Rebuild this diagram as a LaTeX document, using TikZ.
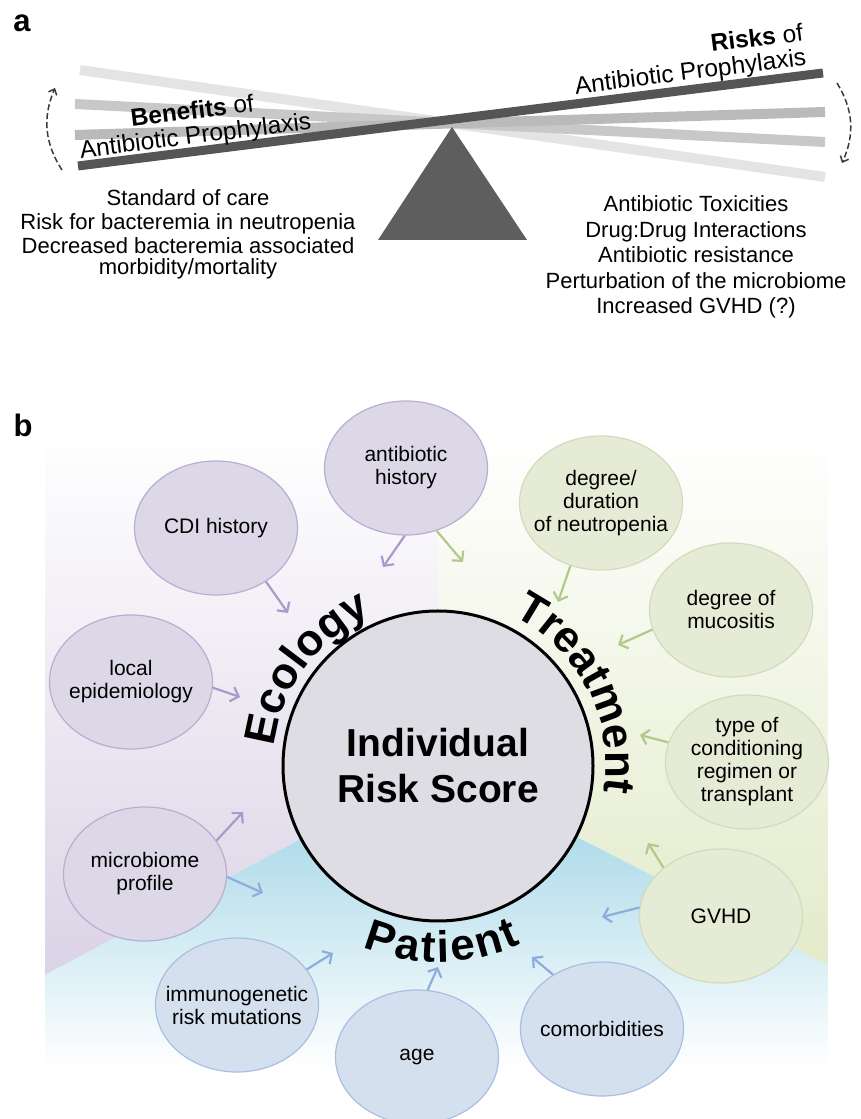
\documentclass[tikz,border=0pt]{standalone}
\usepackage{fontspec}
\setmainfont{Liberation Sans}
\usepackage{xcolor}
\usepackage{tikz}
\usetikzlibrary{arrows.meta,positioning,calc,shapes.geometric,decorations.text}
\definecolor{Beam}{HTML}{555555}
\definecolor{BeamLight}{HTML}{E4E4E4}
\definecolor{BeamMid}{HTML}{C8C8C8}
\definecolor{BeamMidDark}{HTML}{BABABA}
\definecolor{Swing}{HTML}{3A3A3A}
\definecolor{Lilac}{HTML}{B8AED2}
\definecolor{PaleLilac}{HTML}{DDD8E8}
\definecolor{LilacArrow}{HTML}{A69BCB}
\definecolor{LilacBg}{HTML}{DBD3E6}
\definecolor{Sage}{HTML}{D3DBBE}
\definecolor{PaleSage}{HTML}{E6EBD6}
\definecolor{SageArrow}{HTML}{B1CA8A}
\definecolor{SageBg}{HTML}{E3EBCA}
\definecolor{Sky}{HTML}{A9BFE2}
\definecolor{PaleSky}{HTML}{D5E0EF}
\definecolor{SkyArrow}{HTML}{8DADDD}
\definecolor{CyanBg}{HTML}{98D1E4}
\definecolor{ScoreFill}{HTML}{DEDDE3}
\tikzset{
  bubble/.style={ellipse,minimum width=163pt,minimum height=134pt,inner xsep=-16pt,
                 inner ysep=0pt,align=center,line width=1.2pt,
                 font=\fontsize{21}{23}\selectfont},
  lilacbubble/.style={bubble,draw=Lilac,fill=PaleLilac},
  sagebubble/.style={bubble,draw=Sage,fill=PaleSage},
  skybubble/.style={bubble,draw=Sky,fill=PaleSky},
  flow/.style={-{Straight Barb[length=7pt,width=15pt]},line width=2.2pt},
  lilacflow/.style={flow,draw=LilacArrow},
  sageflow/.style={flow,draw=SageArrow},
  skyflow/.style={flow,draw=SkyArrow},
  swing/.style={-{Straight Barb[length=5pt,width=9pt]},dash pattern=on 6pt off 3pt,
                line width=1.5pt,draw=Swing},
  bar/.style={line width=10pt},
  caption/.style={font=\fontsize{24.5}{25}\selectfont,rotate=7.1},
  listing/.style={font=\fontsize{22}{24}\selectfont,align=center},
  panel/.style={font=\fontsize{31}{31}\selectfont\bfseries},
  scorecircle/.style={circle,draw=black,line width=3pt,fill=ScoreFill,minimum size=310pt,
                      inner sep=0pt,align=center,font=\fontsize{39}{46}\selectfont\bfseries},
  arcword/.style={decorate,decoration={text along path,text align=center,
                  text={|\fontsize{44}{44}\selectfont\bfseries|#1}}},
  widearcword/.style={arcword=#1,decoration={text align=fit to path}}
}

\begin{document}
\begin{tikzpicture}[x=1pt,y=1pt]
  \useasboundingbox (0,0) rectangle (860,1119);

  % seesaw
  \coordinate (pivot) at (452,998);
  \draw[bar,draw=BeamLight] (80,1049) -- (825,942);
  \draw[bar,draw=BeamMid] (75,1015) -- (825,977);
  \draw[bar,draw=BeamMidDark] (75,984) -- (825,1007);
  \fill[Beam!95!white] (pivot) ++(0,-6) -- (378,879) -- (527,879) -- cycle;
  \draw[line width=9pt,draw=Beam] (78,953) -- (823,1046);
  \coordinate (swingLa) at (62,949);
  \coordinate (swingLb) at (55,1031);
  \coordinate (swingRa) at (837,1036);
  \coordinate (swingRb) at (842,956);
  \draw[swing] (swingLa) to[bend left=28] (swingLb);
  \draw[swing] (swingRa) to[bend left=28] (swingRb);

  \node[panel] (panelA) at (22,1096) {a};
  \node[caption,align=center] (benefits) at (194,994) {\textbf{Benefits} of\\Antibiotic Prophylaxis};
  \node[caption,align=right] (risks) at (689,1058) {\textbf{Risks} of\\Antibiotic Prophylaxis};
  \node[listing] (pros) at (188,885) {Standard of care\\Risk for bacteremia in neutropenia\\
    Decreased bacteremia associated\\[-3pt]morbidity/mortality};
  \node[listing,font=\fontsize{22}{25.5}\selectfont] (cons) at (696,862) {Antibiotic Toxicities\\
    Drug:Drug Interactions\\Antibiotic resistance\\Perturbation of the microbiome\\Increased GVHD (?)};

  % risk wheel
  \node[panel] (panelB) at (23,694) {b};
  \coordinate (hub) at (438,353);
  \begin{scope}
    \clip (hub) -- (438,689) -- (45,689) -- (45,144) -- cycle;
    \shade[top color=white,middle color=LilacBg!60,bottom color=LilacBg] (45,144) rectangle (438,689);
  \end{scope}
  \begin{scope}
    \clip (hub) -- (45,144) -- (45,40) -- (828,40) -- (828,154) -- cycle;
    \shade[top color=CyanBg,middle color=CyanBg!80,bottom color=white] (45,50) rectangle (828,353);
  \end{scope}
  \begin{scope}
    \clip (hub) -- (828,154) -- (828,689) -- (438,689) -- cycle;
    \shade[top color=white,bottom color=SageBg] (438,154) rectangle (828,689);
  \end{scope}

  \node[scorecircle] (score) at (hub) {Individual\\Risk Score};
  \path[arcword=Ecology] ($(hub)+(193.4:165)$) arc[start angle=193.4,end angle=93.4,radius=165];
  \path[arcword=Treatment] ($(hub)+(77.2:168)$) arc[start angle=77.2,end angle=-22.8,radius=168];
  \path[widearcword=Patient] ($(hub)+(247.5:196)$) arc[start angle=247.5,end angle=295,radius=196];

  \node[lilacbubble] (abx) at (406,651) {antibiotic\\history};
  \node[lilacbubble] (cdi) at (216,591) {CDI history};
  \node[lilacbubble] (epi) at (131,437) {local\\epidemiology};
  \node[lilacbubble] (micro) at (145,245) {microbiome\\profile};
  \node[skybubble] (immuno) at (237,114) {immunogenetic\\risk mutations};
  \node[skybubble] (age) at (417,62) {age};
  \node[skybubble] (comorb) at (602,90) {comorbidities};
  \node[sagebubble] (gvhd) at (721,203) {GVHD};
  \node[sagebubble] (cond) at (747,357) {type of\\conditioning\\regimen or\\transplant};
  \node[sagebubble] (muco) at (731,509) {degree of\\mucositis};
  \node[sagebubble] (neut) at (601,616) {degree/\\duration\\of neutropenia};

  \coordinate (abxTip) at (383,552);
  \coordinate (cdiTip) at (288,506);
  \coordinate (epiTip) at (240,422);
  \coordinate (microEco) at (243,307);
  \coordinate (microPat) at (263,226);
  \coordinate (immunoTip) at (333,166);
  \coordinate (ageTip) at (438,152);
  \coordinate (comorbTip) at (532,162);
  \coordinate (gvhdPat) at (602,202);
  \coordinate (gvhdTreat) at (648,276);
  \coordinate (condTip) at (640,384);
  \coordinate (mucoTip) at (618,474);
  \coordinate (neutTip) at (558,517);
  \coordinate (abxTreat) at (463,557);

  \draw[lilacflow] (abx.-91) -- (abxTip);
  \draw[lilacflow] (cdi.-47) -- (cdiTip);
  \draw[lilacflow] (epi.-4) -- (epiTip);
  \draw[lilacflow] (micro.25) -- (microEco);
  \draw[skyflow] (micro.-2) -- (microPat);
  \draw[skyflow] (immuno.27) -- (immunoTip);
  \draw[skyflow] (age.81) -- (ageTip);
  \draw[skyflow] (comorb.132) -- (comorbTip);
  \draw[skyflow] (gvhd.174) -- (gvhdPat);
  \draw[sageflow] (gvhd.140) -- (gvhdTreat);
  \draw[sageflow] (cond.166) -- (condTip);
  \draw[sageflow] (muco.194) -- (mucoTip);
  \draw[sageflow] (neut.244) -- (neutTip);
  \draw[sageflow] (abx.-64) -- (abxTreat);
\end{tikzpicture}
\end{document}
